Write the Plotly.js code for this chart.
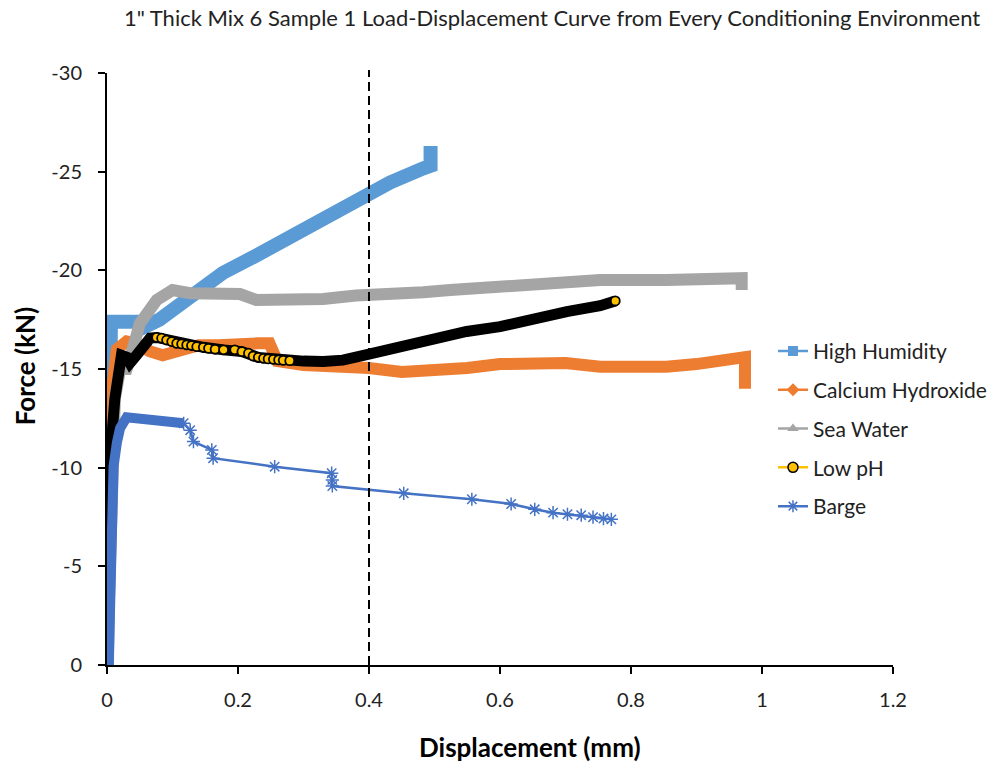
<!DOCTYPE html>
<html>
<head>
<meta charset="utf-8">
<script src="https://cdn.plot.ly/plotly-3.0.1.min.js"></script>
<style>html,body{margin:0;padding:0;background:#fff;}#chart{width:999px;height:767px;}</style>
</head>
<body>
<div id="chart"></div>
<script>
// ---- Data ----
const chartTitle = '1" Thick Mix 6 Sample 1 Load-Displacement Curve from Every Conditioning Environment';
const xAxisTitle = 'Displacement (mm)';
const yAxisTitle = 'Force (kN)';
const seriesNames = ['High Humidity', 'Calcium Hydroxide', 'Sea Water', 'Low pH', 'Barge'];

const xTickVals = [0, 0.2, 0.4, 0.6, 0.8, 1, 1.2];
const xTickText = ['0', '0.2', '0.4', '0.6', '0.8', '1', '1.2'];
const yTickVals = [0, -5, -10, -15, -20, -25, -30];
const yTickText = ['0', '-5', '-10', '-15', '-20', '-25', '-30'];
const refLineX = 0.4;

const highHumX = [0, 0.003, 0.006, 0.045, 0.055, 0.08, 0.127, 0.177, 0.228, 0.28, 0.33, 0.38, 0.432, 0.483, 0.494, 0.494];
const highHumY = [0, -9, -17.4, -17.4, -17.1, -17.5, -18.55, -19.87, -20.75, -21.68, -22.72, -23.6, -24.45, -25.17, -25.3, -26.3];

const calciumX = [0, 0.003, 0.008, 0.015, 0.03, 0.045, 0.065, 0.085, 0.11, 0.14, 0.17, 0.2, 0.23, 0.248, 0.26, 0.3, 0.35, 0.4, 0.45, 0.5, 0.55, 0.6, 0.65, 0.7, 0.753, 0.8, 0.854, 0.9, 0.956, 0.974, 0.974];
const calciumY = [0, -7, -14, -16.0, -16.4, -16.3, -15.9, -15.7, -16.0, -16.2, -16.2, -16.3, -16.3, -16.3, -15.4, -15.2, -15.2, -15.05, -14.85, -14.9, -15.05, -15.25, -15.35, -15.3, -15.12, -15.05, -15.12, -15.25, -15.42, -15.6, -14.0];

const seaWaterX = [0, 0.005, 0.012, 0.02, 0.03, 0.04, 0.05, 0.076, 0.1, 0.127, 0.177, 0.203, 0.228, 0.28, 0.33, 0.38, 0.43, 0.483, 0.524, 0.6, 0.676, 0.753, 0.854, 0.956, 0.969, 0.969];
const seaWaterY = [0, -8, -13.5, -15.0, -15.0, -16.1, -17.3, -18.5, -19.0, -18.84, -18.84, -18.8, -18.5, -18.46, -18.55, -18.72, -18.75, -18.89, -19.0, -19.17, -19.34, -19.51, -19.51, -19.58, -19.6, -19.0];

const lowPhX = [0, 0.003, 0.006, 0.012, 0.016, 0.022, 0.03, 0.035, 0.045, 0.058, 0.066, 0.076, 0.1, 0.122, 0.147, 0.178, 0.206, 0.231, 0.254, 0.279, 0.3, 0.33, 0.36, 0.4, 0.447, 0.498, 0.549, 0.6, 0.651, 0.702, 0.753, 0.776];
const lowPhY = [0, -6, -11, -13.5, -15.0, -15.7, -15.6, -15.3, -15.7, -16.4, -16.57, -16.6, -16.39, -16.22, -16.1, -15.97, -15.88, -15.59, -15.49, -15.42, -15.4, -15.38, -15.45, -15.75, -16.13, -16.47, -16.9, -17.15, -17.57, -17.91, -18.21, -18.45];
// individually visible Low pH markers
const lowPhMarkX = [0.0758, 0.0834, 0.091, 0.0988, 0.1064, 0.114, 0.1217, 0.129, 0.137, 0.147, 0.155, 0.165, 0.178, 0.195, 0.206, 0.216, 0.223, 0.231, 0.239, 0.246, 0.254, 0.262, 0.269, 0.279, 0.776];
const lowPhMarkY = [-16.6, -16.56, -16.47, -16.39, -16.3, -16.27, -16.22, -16.19, -16.13, -16.1, -16.05, -16.0, -15.97, -15.97, -15.88, -15.8, -15.66, -15.59, -15.54, -15.51, -15.49, -15.46, -15.44, -15.42, -18.45];

// Barge: dense start (band) and sparse tail with star markers
const bargeBandX = [0.0026, 0.004, 0.007, 0.01, 0.015, 0.02, 0.03, 0.05, 0.08, 0.1, 0.117];
const bargeBandY = [0, -3.3, -7, -10.05, -11.25, -12.0, -12.55, -12.5, -12.4, -12.35, -12.25];
const bargeX = [0.117, 0.127, 0.132, 0.160, 0.162, 0.256, 0.343, 0.344, 0.344, 0.453, 0.557, 0.617, 0.653, 0.681, 0.703, 0.724, 0.742, 0.758, 0.770];
const bargeY = [-12.25, -11.9, -11.32, -10.90, -10.48, -10.05, -9.72, -9.38, -9.07, -8.70, -8.40, -8.16, -7.89, -7.72, -7.64, -7.59, -7.49, -7.42, -7.38];

// ---- Styles ----
const colors = ['#5B9BD5', '#ED7D31', '#A5A5A5', '#FFC000', '#4472C4'];
const FONT = 'Lato, "Open Sans", sans-serif';

const traces = [];
// bands (dense data drawn as thick strokes)
traces.push({x: highHumX, y: highHumY, mode: 'lines', line: {color: colors[0], width: 14}, showlegend: false, hoverinfo: 'skip', name: seriesNames[0]});
traces.push({x: calciumX, y: calciumY, mode: 'lines', line: {color: colors[1], width: 12}, showlegend: false, hoverinfo: 'skip', name: seriesNames[1]});
traces.push({x: seaWaterX, y: seaWaterY, mode: 'lines', line: {color: colors[2], width: 12}, showlegend: false, hoverinfo: 'skip', name: seriesNames[2]});
traces.push({x: lowPhX, y: lowPhY, mode: 'lines', line: {color: '#000000', width: 11}, showlegend: false, hoverinfo: 'skip', name: seriesNames[3]});
traces.push({x: lowPhMarkX, y: lowPhMarkY, mode: 'markers', marker: {symbol: 'circle', size: 9, color: colors[3], line: {color: '#000000', width: 1.8}}, showlegend: false, name: seriesNames[3]});
traces.push({x: bargeBandX, y: bargeBandY, mode: 'lines', line: {color: colors[4], width: 10}, showlegend: false, hoverinfo: 'skip', name: seriesNames[4]});
traces.push({x: bargeX, y: bargeY, mode: 'lines+markers', line: {color: colors[4], width: 2.5}, marker: {symbol: 'asterisk-open', size: 11, line: {color: colors[4], width: 1.5}}, showlegend: false, name: seriesNames[4]});

// legend entries
const legendSymbols = ['square', 'diamond', 'triangle-up', 'circle', 'asterisk-open'];
seriesNames.forEach((nm, i) => {
  const mk = {symbol: legendSymbols[i], size: 10, color: colors[i]};
  if (i === 3) mk.line = {color: '#000000', width: 1.5};
  if (i === 4) mk.line = {color: colors[i], width: 1.5};
  traces.push({x: [null], y: [null], mode: 'lines+markers', name: nm, legendgroup: 'g' + i,
    line: {color: colors[i], width: 2.5}, marker: mk, showlegend: true});
});

const layout = {
  width: 999, height: 767,
  paper_bgcolor: '#ffffff', plot_bgcolor: '#ffffff',
  margin: {l: 107, r: 106, t: 73, b: 102, autoexpand: false},
  font: {family: FONT, color: '#222222', size: 20},
  title: {text: chartTitle, font: {family: FONT, size: 22, color: '#222222'}, x: 0.5526, xanchor: 'center', xref: 'container', y: 0.976, yanchor: 'middle', yref: 'container'},
  xaxis: {range: [0, 1.2], tickvals: xTickVals, ticktext: xTickText, showgrid: false, zeroline: false, automargin: false,
    showline: true, linecolor: '#000000', linewidth: 2, ticks: 'outside', ticklen: 7, tickwidth: 2, tickcolor: '#000000',
    ticklabelstandoff: 9, tickfont: {family: FONT, size: 20, color: '#222222'}},
  yaxis: {range: [0, -30], tickvals: yTickVals, ticktext: yTickText, showgrid: false, zeroline: false, automargin: false,
    showline: true, linecolor: '#000000', linewidth: 2, ticks: 'outside', ticklen: 7, tickwidth: 2, tickcolor: '#000000',
    ticklabelstandoff: 12, tickfont: {family: FONT, size: 20, color: '#222222'}},
  legend: {x: 0.8473, xanchor: 'left', y: 0.399, yanchor: 'middle', traceorder: 'grouped', tracegroupgap: 8.5,
    font: {family: FONT, size: 21, color: '#222222'}, bgcolor: 'rgba(0,0,0,0)', borderwidth: 0},
  shapes: [{type: 'line', xref: 'x', yref: 'paper', x0: refLineX, x1: refLineX, y0: 0, y1: 1.005,
    line: {color: '#000000', width: 2, dash: '9px,5px'}}],
  annotations: [
    {text: '<b>' + xAxisTitle + '</b>', xref: 'paper', yref: 'paper', x: 0.538, y: -0.139, xanchor: 'center', yanchor: 'middle', showarrow: false, font: {family: FONT, size: 26, color: '#000000'}},
    {text: '<b>' + yAxisTitle + '</b>', xref: 'paper', yref: 'paper', x: -0.104, y: 0.505, xanchor: 'center', yanchor: 'middle', textangle: -90, showarrow: false, font: {family: FONT, size: 26, color: '#000000'}}
  ]
};

Plotly.newPlot('chart', traces, layout, {displayModeBar: false, staticPlot: true});
</script>
</body>
</html>
